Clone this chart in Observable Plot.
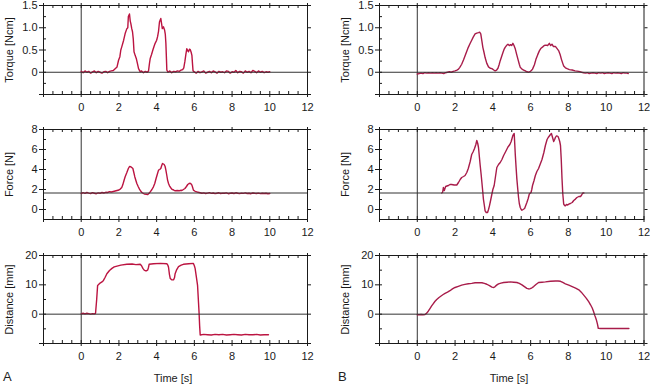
<!DOCTYPE html>
<html><head><meta charset="utf-8">
<script src="https://cdn.jsdelivr.net/npm/d3@7"></script>
<script src="https://cdn.jsdelivr.net/npm/@observablehq/plot@0.6"></script>
<style>
body{margin:0;background:#fff;}
#wrap{position:relative;width:650px;height:386px;overflow:hidden;background:#fff;font-family:'Liberation Sans',Arial,Helvetica,sans-serif;color:#222;}
.p{position:absolute;}
.p svg{overflow:visible;}
.t{position:absolute;font-size:11px;line-height:12px;white-space:nowrap;}
</style></head><body><div id="wrap"></div>
<script>
// ---- tick labels ----
const xMajor = [-2, 0, 2, 4, 6, 8, 10, 12];
const xMinor = [-2,-1.5,-1,-0.5,0,0.5,1,1.5,2,2.5,3,3.5,4,4.5,5,5.5,6,6.5,7,7.5,8,8.5,9,9.5,10,10.5,11,11.5,12];
const torqueTicks = [-0.5, 0, 0.5, 1.0, 1.5];
const torqueMinor = [-0.25, 0.25, 0.75, 1.25];
const forceTicks = [0, 2, 4, 6, 8];
const forceMinor = [-1, 1, 3, 5, 7];
const distTicks = [-10, 0, 10, 20];
const distMinor = [-5, 5, 15];

// ---- series (time [s], value) ----
const torqueA = [[0,0.02],[0.1,-0.01],[0.2,0.03],[0.3,0.0],[0.4,0.02],[0.5,-0.02],[0.6,0.01],[0.7,0.03],[0.8,-0.01],[0.9,0.02],[1.0,0.0],[1.1,-0.02],[1.2,0.01],[1.3,0.02],[1.4,-0.01],[1.5,0.02],[1.6,0.03],[1.7,0.04],[1.8,0.08],[1.9,0.12],[1.98,0.27],[2.05,0.35],[2.1,0.5],[2.15,0.57],[2.25,0.72],[2.33,0.87],[2.42,0.98],[2.47,1.0],[2.5,1.25],[2.56,1.31],[2.6,1.15],[2.63,1.1],[2.68,0.98],[2.72,0.91],[2.76,0.75],[2.8,0.46],[2.86,0.38],[2.92,0.31],[2.98,0.2],[3.04,0.08],[3.13,0.01],[3.2,0.03],[3.3,-0.01],[3.4,0.02],[3.5,0.0],[3.57,0.03],[3.62,0.2],[3.66,0.31],[3.73,0.4],[3.8,0.5],[3.86,0.58],[3.92,0.65],[4.0,0.72],[4.05,0.8],[4.1,0.92],[4.15,1.13],[4.22,1.21],[4.26,1.1],[4.3,0.98],[4.36,1.02],[4.42,0.95],[4.46,0.85],[4.49,0.65],[4.52,0.3],[4.54,0.05],[4.6,0.0],[4.7,0.03],[4.8,-0.01],[4.9,0.02],[5.0,0.01],[5.1,0.03],[5.2,0.02],[5.3,0.05],[5.38,0.06],[5.44,0.1],[5.5,0.25],[5.55,0.4],[5.6,0.53],[5.65,0.48],[5.69,0.46],[5.74,0.52],[5.78,0.51],[5.83,0.45],[5.87,0.38],[5.9,0.2],[5.93,0.03],[6.0,0.01],[6.1,-0.02],[6.2,0.02],[6.3,-0.01],[6.4,0.01],[6.5,0.03],[6.6,-0.02],[6.7,0.0],[6.8,0.02],[6.9,-0.01],[7.0,0.03],[7.1,0.01],[7.2,-0.02],[7.3,0.02],[7.4,0.0],[7.5,0.01],[7.6,-0.01],[7.7,0.03],[7.8,0.02],[7.9,-0.02],[8.0,0.01],[8.1,0.0],[8.2,0.04],[8.3,-0.01],[8.4,0.02],[8.5,0.01],[8.6,-0.02],[8.7,0.03],[8.8,0.0],[8.9,0.02],[9.0,-0.01],[9.1,0.04],[9.2,0.02],[9.3,-0.01],[9.4,0.03],[9.5,0.0],[9.6,0.02],[9.7,-0.01],[9.8,0.01],[9.9,0.0],[10.0,0.01]];

const forceA = [[0,1.6],[0.1,1.68],[0.2,1.62],[0.3,1.7],[0.4,1.64],[0.5,1.6],[0.6,1.68],[0.7,1.63],[0.8,1.58],[0.9,1.66],[1.0,1.62],[1.1,1.7],[1.2,1.65],[1.3,1.72],[1.4,1.7],[1.5,1.78],[1.6,1.75],[1.7,1.8],[1.8,1.85],[1.9,1.9],[2.0,1.95],[2.07,2.04],[2.15,2.2],[2.2,2.44],[2.27,2.9],[2.33,3.28],[2.42,3.7],[2.5,4.1],[2.56,4.3],[2.63,4.28],[2.68,4.2],[2.74,4.1],[2.79,3.7],[2.84,3.28],[2.9,2.9],[2.95,2.6],[3.02,2.3],[3.09,2.04],[3.15,1.85],[3.22,1.7],[3.3,1.6],[3.36,1.54],[3.45,1.52],[3.53,1.5],[3.6,1.62],[3.66,1.77],[3.75,2.0],[3.83,2.27],[3.9,2.6],[3.97,3.1],[4.04,3.55],[4.1,3.94],[4.16,4.0],[4.22,4.1],[4.27,4.4],[4.31,4.6],[4.36,4.55],[4.4,4.5],[4.45,4.3],[4.49,3.94],[4.54,3.4],[4.58,2.94],[4.63,2.6],[4.68,2.37],[4.74,2.2],[4.8,2.04],[4.9,1.95],[4.98,1.87],[5.1,1.9],[5.2,1.88],[5.3,1.92],[5.34,1.9],[5.42,2.0],[5.5,2.1],[5.58,2.3],[5.65,2.5],[5.72,2.6],[5.78,2.62],[5.83,2.55],[5.87,2.44],[5.91,2.2],[5.95,1.94],[6.04,1.82],[6.13,1.77],[6.2,1.72],[6.3,1.67],[6.4,1.62],[6.5,1.66],[6.6,1.6],[6.7,1.64],[6.8,1.68],[6.9,1.61],[7.0,1.65],[7.1,1.59],[7.2,1.63],[7.3,1.67],[7.4,1.6],[7.5,1.64],[7.6,1.62],[7.7,1.66],[7.8,1.58],[7.9,1.63],[8.0,1.65],[8.1,1.6],[8.2,1.67],[8.3,1.62],[8.4,1.59],[8.5,1.64],[8.6,1.61],[8.7,1.66],[8.8,1.6],[8.9,1.63],[9.0,1.58],[9.1,1.65],[9.2,1.62],[9.3,1.6],[9.4,1.64],[9.5,1.59],[9.6,1.62],[9.7,1.6],[9.8,1.63],[9.9,1.58],[10.0,1.6]];

const distA = [[0,0.1],[0.1,0.3],[0.2,0.1],[0.3,0.3],[0.4,0.2],[0.5,0.0],[0.6,0.2],[0.7,0.1],[0.76,0.3],[0.82,5],[0.87,9.8],[1.0,10.6],[1.1,11.0],[1.18,11.5],[1.27,12.6],[1.36,13.8],[1.5,14.9],[1.63,15.6],[1.75,16.1],[1.9,16.4],[2.1,16.7],[2.42,17.0],[2.7,17.1],[2.9,16.9],[3.13,17.0],[3.2,16.5],[3.27,15.6],[3.34,15.0],[3.4,14.8],[3.47,14.8],[3.53,15.1],[3.57,16.0],[3.6,17.0],[3.83,17.2],[4.2,17.3],[4.54,17.2],[4.6,16.6],[4.63,16.0],[4.68,13.5],[4.72,12.2],[4.8,11.7],[4.9,11.7],[4.95,12.5],[4.98,13.8],[5.05,15.0],[5.16,16.2],[5.3,16.7],[5.42,17.0],[5.7,17.2],[5.95,17.3],[6.0,16.5],[6.04,15.6],[6.1,13.0],[6.17,9.8],[6.22,4],[6.25,0.5],[6.28,-4],[6.31,-7.1],[6.5,-6.9],[6.7,-7.0],[6.9,-7.1],[7.1,-6.9],[7.3,-7.0],[7.5,-6.9],[7.7,-7.1],[7.9,-7.0],[8.1,-6.9],[8.3,-7.0],[8.5,-7.1],[8.7,-6.9],[8.9,-7.0],[9.1,-7.0],[9.3,-6.9],[9.5,-7.1],[9.7,-7.0],[9.93,-7.0]];

const torqueB = [[0,-0.04],[0.1,-0.03],[0.2,-0.02],[0.3,-0.03],[0.4,-0.01],[0.5,-0.02],[0.6,-0.01],[0.7,-0.02],[0.8,-0.01],[0.9,-0.02],[1.0,-0.01],[1.1,-0.02],[1.2,-0.01],[1.3,-0.02],[1.4,-0.03],[1.5,-0.01],[1.6,0.0],[1.7,0.01],[1.8,0.0],[1.9,0.02],[2.0,0.03],[2.1,0.05],[2.18,0.07],[2.25,0.11],[2.35,0.18],[2.45,0.28],[2.53,0.37],[2.6,0.45],[2.7,0.56],[2.8,0.65],[2.88,0.72],[2.96,0.79],[3.06,0.86],[3.15,0.88],[3.24,0.89],[3.3,0.9],[3.36,0.86],[3.42,0.7],[3.47,0.56],[3.53,0.45],[3.59,0.33],[3.68,0.2],[3.77,0.12],[3.86,0.09],[3.95,0.08],[4.05,0.05],[4.12,0.03],[4.2,0.05],[4.27,0.09],[4.33,0.17],[4.39,0.26],[4.46,0.35],[4.53,0.44],[4.6,0.52],[4.65,0.56],[4.72,0.6],[4.8,0.63],[4.87,0.6],[4.94,0.62],[5.0,0.6],[5.06,0.65],[5.12,0.6],[5.19,0.52],[5.26,0.4],[5.33,0.29],[5.4,0.18],[5.45,0.11],[5.54,0.07],[5.63,0.05],[5.72,0.03],[5.8,0.01],[5.9,0.0],[5.98,0.02],[6.04,0.04],[6.1,0.07],[6.2,0.17],[6.28,0.29],[6.37,0.39],[6.46,0.48],[6.55,0.54],[6.64,0.57],[6.72,0.6],[6.81,0.61],[6.9,0.6],[6.99,0.65],[7.06,0.6],[7.13,0.63],[7.2,0.58],[7.31,0.58],[7.4,0.53],[7.49,0.48],[7.56,0.4],[7.63,0.29],[7.7,0.2],[7.75,0.14],[7.84,0.1],[7.93,0.08],[8.05,0.06],[8.2,0.05],[8.35,0.03],[8.55,0.02],[8.7,0.0],[8.8,-0.01],[8.9,-0.02],[9.0,-0.01],[9.1,-0.03],[9.2,-0.02],[9.3,-0.01],[9.4,-0.02],[9.5,-0.03],[9.6,-0.01],[9.7,-0.02],[9.8,-0.01],[9.9,-0.03],[10.0,-0.02],[10.1,-0.01],[10.2,-0.02],[10.3,-0.03],[10.4,-0.01],[10.5,-0.02],[10.6,-0.01],[10.7,-0.02],[10.8,-0.03],[10.9,-0.01],[11.0,-0.02],[11.1,-0.02],[11.17,-0.03]];

const forceB = [[1.29,1.65],[1.34,1.7],[1.38,2.2],[1.43,1.9],[1.5,2.3],[1.57,2.35],[1.65,2.4],[1.73,2.5],[1.82,2.5],[1.95,2.45],[2.09,2.45],[2.18,2.7],[2.27,3.0],[2.35,3.2],[2.45,3.3],[2.53,3.4],[2.62,3.7],[2.7,4.1],[2.8,4.8],[2.88,5.5],[2.95,5.75],[3.03,6.1],[3.1,6.5],[3.15,6.9],[3.2,6.6],[3.24,6.2],[3.28,5.4],[3.33,4.4],[3.38,3.5],[3.42,2.7],[3.46,1.9],[3.5,1.04],[3.55,0.4],[3.59,-0.13],[3.65,-0.3],[3.72,-0.3],[3.77,0.0],[3.82,0.37],[3.88,0.9],[3.95,1.55],[4.0,2.0],[4.07,2.4],[4.14,3.3],[4.21,4.2],[4.3,4.5],[4.39,4.7],[4.48,5.0],[4.57,5.4],[4.68,5.8],[4.8,6.25],[4.9,6.5],[4.97,6.8],[5.03,7.2],[5.06,7.4],[5.13,7.6],[5.16,6.5],[5.19,5.4],[5.23,4.2],[5.27,3.06],[5.32,2.0],[5.36,1.2],[5.4,0.6],[5.45,0.2],[5.5,0.0],[5.54,-0.07],[5.6,0.0],[5.68,0.1],[5.74,0.4],[5.8,0.7],[5.87,1.1],[5.93,1.55],[6.02,1.7],[6.06,2.0],[6.1,2.4],[6.18,2.9],[6.25,3.4],[6.33,3.8],[6.42,4.1],[6.5,4.5],[6.6,5.0],[6.7,5.7],[6.78,6.4],[6.87,7.0],[6.93,7.2],[6.99,7.35],[7.05,7.5],[7.1,7.6],[7.16,7.2],[7.22,6.8],[7.27,7.0],[7.31,7.2],[7.36,7.35],[7.4,7.35],[7.45,7.3],[7.49,7.1],[7.54,6.8],[7.58,6.4],[7.62,5.0],[7.66,3.1],[7.7,1.6],[7.75,0.54],[7.8,0.4],[7.84,0.37],[7.9,0.5],[7.96,0.45],[8.02,0.54],[8.1,0.6],[8.2,0.7],[8.28,0.9],[8.37,1.04],[8.45,1.2],[8.55,1.3],[8.64,1.3],[8.7,1.45],[8.76,1.65],[8.82,1.65]];

const distB = [[0,-0.2],[0.1,-0.2],[0.2,-0.1],[0.3,-0.2],[0.41,-0.1],[0.5,0.35],[0.58,1.0],[0.67,1.9],[0.76,2.8],[0.85,3.6],[0.94,4.4],[1.03,5.0],[1.15,5.7],[1.26,6.2],[1.37,6.7],[1.47,7.1],[1.6,7.5],[1.73,8.0],[1.86,8.6],[2.0,9.1],[2.17,9.5],[2.35,9.9],[2.52,10.15],[2.7,10.35],[2.88,10.5],[3.06,10.7],[3.25,10.75],[3.42,10.7],[3.55,10.5],[3.68,10.2],[3.82,9.7],[3.95,9.2],[4.05,9.1],[4.12,9.4],[4.2,9.9],[4.3,10.35],[4.43,10.6],[4.57,10.8],[4.75,10.9],[4.92,11.0],[5.1,10.9],[5.27,10.8],[5.4,10.5],[5.54,10.0],[5.67,9.4],[5.8,8.8],[5.9,8.6],[5.98,8.7],[6.07,9.0],[6.16,9.4],[6.28,10.1],[6.42,10.8],[6.6,10.9],[6.78,11.0],[7.05,11.2],[7.31,11.3],[7.45,11.3],[7.58,11.2],[7.7,10.8],[7.84,10.35],[8.02,9.9],[8.2,9.4],[8.38,8.9],[8.55,8.3],[8.68,7.5],[8.81,6.5],[8.95,5.4],[9.08,4.2],[9.17,3.2],[9.26,2.1],[9.33,0.9],[9.4,-0.5],[9.45,-1.4],[9.49,-2.2],[9.54,-3.5],[9.58,-4.8],[9.7,-4.9],[9.9,-4.9],[10.2,-4.9],[10.5,-4.9],[10.8,-4.9],[11.0,-4.9],[11.2,-4.9]];

const FONT = "'Liberation Sans', Arial, Helvetica, sans-serif";
const colorA = "#bb1441";
const colorB = "#a81c4a";
const ink = "#1a1a1a";

const rowDefs = [
  {label: "Torque [Ncm]", domain: [-0.5, 1.5], ticks: torqueTicks, minor: torqueMinor, base: 0,
   fmt: d => d < 0 ? "" : (d === 0 ? "0" : d.toFixed(1)), top: 0, mt: 5, h: 112},
  {label: "Force [N]", domain: [-1, 8], ticks: forceTicks, minor: forceMinor, base: 1.65,
   fmt: d => String(d), top: 120, mt: 9, h: 117},
  {label: "Distance [mm]", domain: [-10, 20], ticks: distTicks, minor: distMinor, base: 0,
   fmt: d => d < 0 ? "" : String(d), top: 245, mt: 10, h: 116}
];
const colDefs = [
  {left: 0, w: 325, mr: 18, color: colorA, series: [torqueA, forceA, distA]},
  {left: 336, w: 314, mr: 6.5, color: colorB, series: [torqueB, forceB, distB]}
];

const wrap = document.getElementById("wrap");
const ML = 43, MB = 18;

colDefs.forEach(col => {
  rowDefs.forEach((row, i) => {
    const H = row.h - row.mt - MB;
    const W = col.w - ML - col.mr;
    const allY = row.ticks.concat(row.minor);
    const p = Plot.plot({
      width: col.w, height: row.h,
      marginLeft: ML, marginRight: col.mr, marginTop: row.mt, marginBottom: MB,
      x: {domain: [-2, 12]},
      y: {domain: row.domain},
      style: {fontFamily: FONT, fontSize: "11px", color: ink, background: "transparent", overflow: "visible"},
      marks: [
        Plot.ruleX([0], {stroke: "#333", strokeWidth: 1}),
        Plot.line(col.series[i], {x: d => d[0], y: d => d[1], stroke: col.color, strokeWidth: 1.4}),
        Plot.ruleY([row.base], {stroke: "#333", strokeWidth: 1}),
        Plot.frame({stroke: ink, strokeWidth: 1}),
        Plot.tickX(xMinor, {x: d => d, insetTop: H - 3, stroke: ink}),
        Plot.tickX(xMinor, {x: d => d, insetBottom: H - 3, stroke: ink}),
        Plot.tickY(allY, {y: d => d, insetRight: W - 3, stroke: ink}),
        Plot.axisX({anchor: "bottom", ticks: xMajor, tickSize: 3, tickPadding: 6,
          tickFormat: d => d < 0 ? "" : String(d), label: null}),
        Plot.axisX({anchor: "top", ticks: xMajor, tickSize: 3, tickFormat: () => "", label: null}),
        Plot.axisY({anchor: "left", ticks: row.ticks, tickSize: 4, tickPadding: 2,
          tickFormat: row.fmt, label: row.label, labelAnchor: "center", labelArrow: "none", labelOffset: 38}),
        Plot.axisY({anchor: "right", ticks: row.ticks, tickSize: 3, tickFormat: () => "", label: null})
      ]
    });
    const div = document.createElement("div");
    div.className = "p";
    div.style.left = col.left + "px";
    div.style.top = row.top + "px";
    div.appendChild(p);
    wrap.appendChild(div);
  });
});

function addText(txt, x, y, size, anchorCenter) {
  const d = document.createElement("div");
  d.className = "t";
  d.textContent = txt;
  d.style.fontSize = size + "px";
  d.style.top = y + "px";
  d.style.left = x + "px";
  if (anchorCenter) d.style.transform = "translateX(-50%)";
  wrap.appendChild(d);
}
addText("Time [s]", 173, 372, 11, true);
addText("Time [s]", 509, 372, 11, true);
addText("A", 3, 371, 13, false);
addText("B", 338, 371, 13, false);
</script></body></html>
